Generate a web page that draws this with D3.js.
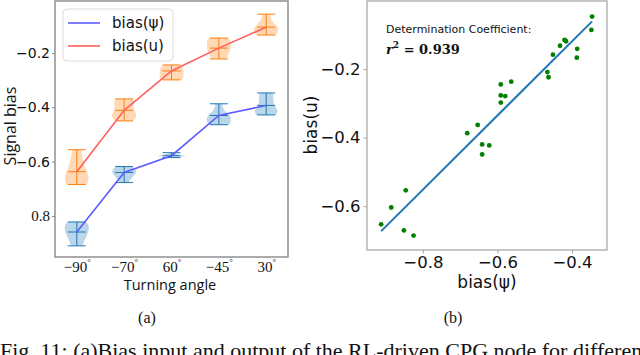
<!DOCTYPE html>
<meta charset="utf-8">
<style>
body { margin: 0; background: #fff; }
svg { display: block; }
.sans { font-family: "DejaVu Sans", sans-serif; }
.serif { font-family: "Liberation Serif", "Times New Roman", serif; }
</style>
<svg id="fig" width="640" height="355"></svg>
<script src="https://d3js.org/d3.v7.min.js"></script>
<script>
// ---- data (a): turning angle vs signal bias ----
var angleLabels = ["−90", "−70", "60", "−45", "30"];
var psiMean = [-0.859, -0.640, -0.578, -0.430, -0.393];
var psiMin  = [-0.910, -0.677, -0.585, -0.464, -0.428];
var psiMax  = [-0.822, -0.618, -0.567, -0.387, -0.347];
var uMean = [-0.637, -0.411, -0.266, -0.182, -0.105];
var uMin  = [-0.684, -0.450, -0.299, -0.222, -0.134];
var uMax  = [-0.556, -0.369, -0.244, -0.145, -0.057];
// violin density profiles, bottom (min) to top (max), relative half-widths
var psiDensity = [
  [0.50, 0.60, 0.75, 0.90, 1.00, 1.00, 0.80],
  [0.35, 0.50, 0.70, 0.90, 1.00, 0.95, 0.60],
  [0.15, 0.50, 1.25, 0.80, 0.50, 0.30, 0.10],
  [0.90, 1.00, 1.00, 0.80, 0.50, 0.35, 0.30],
  [0.85, 0.95, 0.80, 0.65, 0.60, 0.60, 0.55]
];
var uDensity = [
  [0.85, 1.00, 0.90, 0.70, 0.55, 0.45, 0.40],
  [0.70, 1.00, 1.00, 0.85, 0.80, 0.85, 0.70],
  [0.80, 1.00, 1.00, 1.00, 1.00, 0.90, 0.70],
  [0.65, 0.75, 0.90, 1.00, 1.00, 1.00, 0.80],
  [0.80, 1.00, 1.00, 0.75, 0.50, 0.40, 0.35]
];
var leftYTicks = [-0.2, -0.4, -0.6, -0.8];
var leftYTickLabels = ["−0.2", "−0.4", "−0.6", "0.8"];

// ---- data (b): bias(psi) vs bias(u) ----
var psiBias = [-0.912,-0.885,-0.846,-0.851,-0.825,-0.681,-0.653,-0.641,-0.622,-0.641,
               -0.591,-0.563,-0.591,-0.579,-0.591,-0.466,-0.463,-0.451,-0.432,-0.420,
               -0.416,-0.386,-0.387,-0.346,-0.348];
var uBias = [-0.653,-0.604,-0.554,-0.671,-0.686,-0.387,-0.363,-0.420,-0.423,-0.449,
             -0.245,-0.237,-0.277,-0.279,-0.298,-0.209,-0.224,-0.158,-0.132,-0.115,
             -0.119,-0.141,-0.167,-0.047,-0.086];
var rightXTicks = [-0.8, -0.6, -0.4];
var rightYTicks = [-0.2, -0.4, -0.6];
var r2Text = "0.939";

var svg = d3.select("#fig");

// ================= panel (a) =================
var A = {left: 55, right: 288, top: 1, bottom: 257};
var xa = d3.scalePoint().domain(d3.range(angleLabels.length)).range([A.left, A.right]).padding(0.46);
var ya = d3.scaleLinear().domain([-0.951, -0.0086]).range([A.bottom, A.top]);
var step = xa.step();

var ga = svg.append("g");

function violins(means, mins, maxs, dens, col) {
  means.forEach(function(m, i) {
    var cx = xa(i);
    var lv = d3.scaleLinear().domain([0, dens[i].length - 1]).range([mins[i], maxs[i]]);
    var area = d3.area()
      .y(function(d, k) { return ya(lv(k)); })
      .x0(function(d) { return cx - d * 0.25 * step; })
      .x1(function(d) { return cx + d * 0.25 * step; })
      .curve(d3.curveCatmullRom);
    ga.append("path").attr("d", area(dens[i]))
      .attr("fill", col).attr("fill-opacity", 0.3).attr("stroke", "none");
    var cw = 0.19 * step;
    ga.append("line").attr("x1", cx).attr("x2", cx).attr("y1", ya(mins[i])).attr("y2", ya(maxs[i]))
      .attr("stroke", col).attr("stroke-width", 1);
    [mins[i], maxs[i], m].forEach(function(v) {
      ga.append("line").attr("x1", cx - cw).attr("x2", cx + cw).attr("y1", ya(v)).attr("y2", ya(v))
        .attr("stroke", col).attr("stroke-width", 1);
    });
  });
}
violins(psiMean, psiMin, psiMax, psiDensity, "#1f77b4");
violins(uMean, uMin, uMax, uDensity, "#ff7f0e");

var lineA = d3.line().x(function(d, i) { return xa(i); }).y(function(d) { return ya(d); });
ga.append("path").attr("d", lineA(psiMean)).attr("fill", "none")
  .attr("stroke", "#5c5cff").attr("stroke-width", 1.6);
ga.append("path").attr("d", lineA(uMean)).attr("fill", "none")
  .attr("stroke", "#ff5f5f").attr("stroke-width", 1.6);

// frame
ga.append("rect").attr("x", A.left).attr("y", A.top).attr("width", A.right - A.left)
  .attr("height", A.bottom - A.top).attr("fill", "none").attr("stroke", "#888").attr("stroke-width", 1.4);

// axes
var yAxisA = ga.append("g").attr("transform", "translate(" + A.left + ",0)")
  .call(d3.axisLeft(ya).tickValues(leftYTicks).tickSize(3).tickPadding(2)
    .tickFormat(function(d, i) { return leftYTickLabels[i]; }));
yAxisA.select(".domain").remove();
yAxisA.selectAll("line").attr("stroke", "#888");
yAxisA.selectAll("text").attr("fill", "#111")
  .style("font-size", function(d, i) { return leftYTickLabels[i].charAt(0) === "−" ? "14px" : "15px"; })
  .style("font-family", function(d, i) {
    return leftYTickLabels[i].charAt(0) === "−" ? "DejaVu Sans, sans-serif" : "Liberation Serif, serif";
  });

var xAxisA = ga.append("g").attr("transform", "translate(0," + A.bottom + ")")
  .call(d3.axisBottom(xa).tickSize(0).tickPadding(4).tickFormat(""));
xAxisA.select(".domain").remove();
xAxisA.selectAll(".tick").append("text")
  .attr("class", "serif").attr("y", 15).attr("text-anchor", "middle")
  .attr("fill", "#111").style("font-size", "15px")
  .each(function(d) {
    var t = d3.select(this);
    t.append("tspan").text(angleLabels[d]);
    t.append("tspan").attr("dy", -7).style("font-size", "9px").text("°");
  });

ga.append("text").attr("x", 170).attr("y", 290).attr("text-anchor", "middle")
  .style("font-family", "Open Sans, sans-serif").style("font-size", "14.5px").attr("fill", "#111")
  .text("Turning angle");
ga.append("text").attr("transform", "translate(16,126) rotate(-90)").attr("text-anchor", "middle")
  .style("font-family", "Open Sans, sans-serif").style("font-size", "16px").attr("fill", "#111")
  .text("Signal bias");

// legend
var lg = ga.append("g");
lg.append("rect").attr("x", 63).attr("y", 9).attr("width", 110).attr("height", 52).attr("rx", 4)
  .attr("fill", "#fff").attr("fill-opacity", 0.85).attr("stroke", "#ddd").attr("stroke-width", 1);
[["bias(ψ)", "#5c5cff", 23], ["bias(u)", "#ff5f5f", 46]].forEach(function(e) {
  lg.append("line").attr("x1", 68).attr("x2", 100).attr("y1", e[2]).attr("y2", e[2])
    .attr("stroke", e[1]).attr("stroke-width", 1.6);
  lg.append("text").attr("x", 112).attr("y", e[2] + 5).attr("class", "sans")
    .style("font-size", "15px").attr("fill", "#111").text(e[0]);
});

// ================= panel (b) =================
var B = {left: 367, right: 607, top: 1, bottom: 250};
var xb = d3.scaleLinear().domain([-0.950, -0.306]).range([B.left, B.right]);
var yb = d3.scaleLinear().domain([-0.728, -0.0015]).range([B.bottom, B.top]);
var gb = svg.append("g");

// least squares fit
var mx = d3.mean(psiBias), my = d3.mean(uBias);
var sxy = d3.sum(psiBias, function(v, i) { return (v - mx) * (uBias[i] - my); });
var sxx = d3.sum(psiBias, function(v) { return (v - mx) * (v - mx); });
var slope = sxy / sxx, icpt = my - slope * mx;
var xe = d3.extent(psiBias);
gb.append("line").attr("x1", xb(xe[0])).attr("x2", xb(xe[1]))
  .attr("y1", yb(slope * xe[0] + icpt)).attr("y2", yb(slope * xe[1] + icpt))
  .attr("stroke", "#1f77b4").attr("stroke-width", 2);

gb.selectAll("circle").data(psiBias).enter().append("circle")
  .attr("cx", function(d) { return xb(d); })
  .attr("cy", function(d, i) { return yb(uBias[i]); })
  .attr("r", 2.4).attr("fill", "#008000");

gb.append("rect").attr("x", B.left).attr("y", B.top).attr("width", B.right - B.left)
  .attr("height", B.bottom - B.top).attr("fill", "none").attr("stroke", "#aaa").attr("stroke-width", 1.3);

var yAxisB = gb.append("g").attr("transform", "translate(" + B.left + ",0)")
  .call(d3.axisLeft(yb).tickValues(rightYTicks).tickSize(3.5).tickPadding(3)
    .tickFormat(function(d) { return d3.format(".1f")(d).replace("-", "−"); }));
var xAxisB = gb.append("g").attr("transform", "translate(0," + B.bottom + ")")
  .call(d3.axisBottom(xb).tickValues(rightXTicks).tickSize(3.5).tickPadding(3)
    .tickFormat(function(d) { return d3.format(".1f")(d).replace("-", "−"); }));
[yAxisB, xAxisB].forEach(function(ax) {
  ax.select(".domain").remove();
  ax.selectAll("line").attr("stroke", "#aaa");
  ax.selectAll("text").attr("class", "sans").attr("fill", "#111").style("font-size", "16.5px");
});

gb.append("text").attr("x", 487).attr("y", 288).attr("text-anchor", "middle").attr("class", "sans")
  .style("font-size", "17px").attr("fill", "#111").text("bias(ψ)");
gb.append("text").attr("transform", "translate(317,125) rotate(-90)").attr("text-anchor", "middle")
  .attr("class", "sans").style("font-size", "17px").attr("fill", "#111").text("bias(u)");

gb.append("text").attr("x", 386).attr("y", 33).attr("class", "sans")
  .style("font-size", "11px").attr("fill", "#111").text("Determination Coefficient:");
var rt = gb.append("text").attr("x", 386).attr("y", 54)
  .style("font-family", "DejaVu Serif, serif").style("font-weight", "bold").style("font-size", "13px").attr("fill", "#111");
rt.append("tspan").style("font-style", "italic").text("r");
rt.append("tspan").attr("dy", -6).style("font-size", "9px").text("2");
rt.append("tspan").attr("dy", 6).text(" = " + r2Text);

// ================= captions =================
svg.append("text").attr("x", 147).attr("y", 323).attr("text-anchor", "middle").attr("class", "serif")
  .style("font-size", "16px").attr("fill", "#111").text("(a)");
svg.append("text").attr("x", 453).attr("y", 323).attr("text-anchor", "middle").attr("class", "serif")
  .style("font-size", "16px").attr("fill", "#111").text("(b)");
svg.append("text").attr("x", 0).attr("y", 358).attr("class", "serif")
  .style("font-size", "22px").attr("fill", "#111")
  .text("Fig. 11: (a)Bias input and output of the RL-driven CPG node for different");
</script>
